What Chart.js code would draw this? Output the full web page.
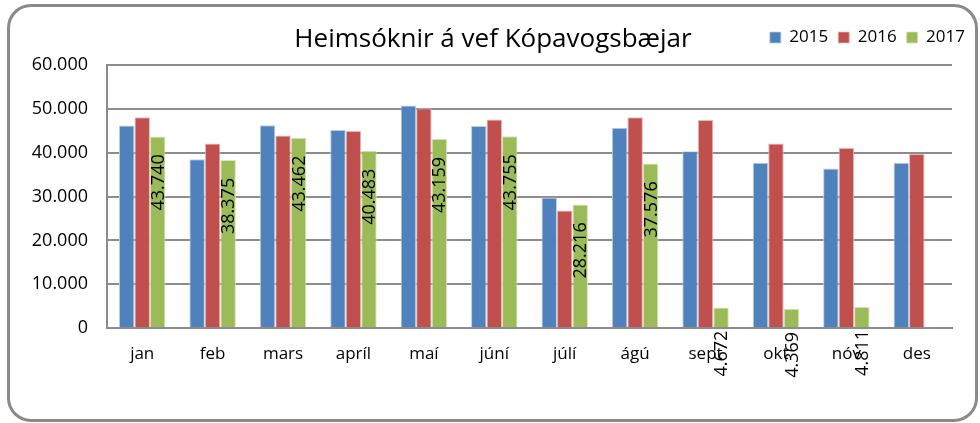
<!DOCTYPE html>
<html>
<head>
<meta charset="utf-8">
<script src="https://cdn.jsdelivr.net/npm/chart.js@4"></script>
<style>
  html, body { margin: 0; padding: 0; background: #fff; }
  #wrap { position: relative; width: 980px; height: 423px; }
  #frame {
    position: absolute; left: 7px; top: 4px; width: 965px; height: 412px;
    border: 3px solid #8a8a8a; border-radius: 24px;
  }
  canvas { position: absolute; left: 0; top: 0; }
</style>
</head>
<body>
<div id="wrap">
  <div id="frame"></div>
  <canvas id="visitsChart" width="980" height="423"></canvas>
</div>
<script>
// Monthly visits to the Kópavogur website
const months = ["jan", "feb", "mars", "apríl", "maí", "júní", "júlí", "ágú", "sept", "okt", "nóv", "des"];
const visits2015 = [46250, 38500, 46300, 45200, 50800, 46100, 29800, 45700, 40350, 37750, 36400, 37750];
const visits2016 = [48100, 42100, 43950, 45000, 50100, 47600, 26800, 48100, 47500, 42100, 41100, 39700];
const visits2017 = [43740, 38375, 43462, 40483, 43159, 43755, 28216, 37576, 4672, 4369, 4811, null];
const yTicks = [0, 10000, 20000, 30000, 40000, 50000, 60000];

// Icelandic thousands separator: 43740 -> "43.740"
function fmt(v) {
  return String(Math.round(v)).replace(/\B(?=(\d{3})+(?!\d))/g, ".");
}

// vertical value labels on the 2017 bars
const barLabels = {
  id: "barLabels",
  afterDatasetsDraw(chart) {
    const ctx = chart.ctx;
    const meta = chart.getDatasetMeta(2);
    ctx.save();
    ctx.font = "18px 'Open Sans'";
    ctx.fillStyle = "#000";
    ctx.textAlign = "center";
    ctx.textBaseline = "middle";
    meta.data.forEach((bar, i) => {
      const v = visits2017[i];
      if (v == null) return;
      ctx.save();
      ctx.translate(bar.x, bar.y + 46);
      ctx.rotate(-Math.PI / 2);
      ctx.fillText(fmt(v), 0, 1);
      ctx.restore();
    });
    ctx.restore();
  },
};

// title a bit right of centre, legend on the same row at the right
const headerRow = {
  id: "headerRow",
  afterLayout(chart) {
    chart.titleBlock.left = 34;
    const lg = chart.legend;
    lg.top = 19;
    lg.bottom = lg.top + 40;
    lg.right = 975;
  },
};

const ctx = document.getElementById("visitsChart").getContext("2d");
new Chart(ctx, {
  type: "bar",
  data: {
    labels: months,
    datasets: [
      { label: "2015", data: visits2015, backgroundColor: "#4f81bd", borderColor: "#b9cde5", borderWidth: { left: 1, right: 1, top: 1 } },
      { label: "2016", data: visits2016, backgroundColor: "#c0504d", borderColor: "#e6b9b8", borderWidth: { left: 1, right: 1, top: 1 } },
      { label: "2017", data: visits2017, backgroundColor: "#9bbb59", borderColor: "#d7e4bd", borderWidth: { left: 1, right: 1, top: 1 } },
    ],
  },
  options: {
    responsive: false,
    animation: false,
    layout: { padding: { top: 0, right: 28, bottom: 0, left: 0 } },
    datasets: { bar: { categoryPercentage: 0.66, barPercentage: 1.0 } },
    plugins: {
      title: {
        display: true,
        text: "Heimsóknir á vef Kópavogsbæjar",
        color: "#000",
        font: { family: "'Open Sans'", size: 26, weight: "normal" },
        padding: { top: 24, bottom: 9 },
      },
      legend: {
        position: "top",
        align: "end",
        maxHeight: 1,
        labels: {
          color: "#000",
          font: { family: "'Open Sans'", size: 17 },
          boxWidth: 11,
          boxHeight: 11,
          padding: 10,
        },
      },
      tooltip: { enabled: false },
    },
    scales: {
      x: {
        grid: { display: false, drawTicks: false },
        border: { color: "#8c8c8c", width: 2 },
        ticks: { color: "#000", font: { family: "'Open Sans'", size: 17 }, padding: 16, maxRotation: 0 },
        afterFit: (s) => { s.height = 95; },
      },
      y: {
        min: 0,
        max: 60000,
        afterBuildTicks: (s) => { s.ticks = yTicks.map((v) => ({ value: v })); },
        grid: { color: "#8c8c8c", lineWidth: 2, drawTicks: false },
        border: { color: "#8c8c8c", width: 2 },
        ticks: {
          color: "#000",
          font: { family: "'Open Sans'", size: 18 },
          padding: 19,
          callback: (v) => fmt(v),
        },
        afterFit: (s) => { s.width = 107; },
      },
    },
  },
  plugins: [barLabels, headerRow],
});
</script>
</body>
</html>
